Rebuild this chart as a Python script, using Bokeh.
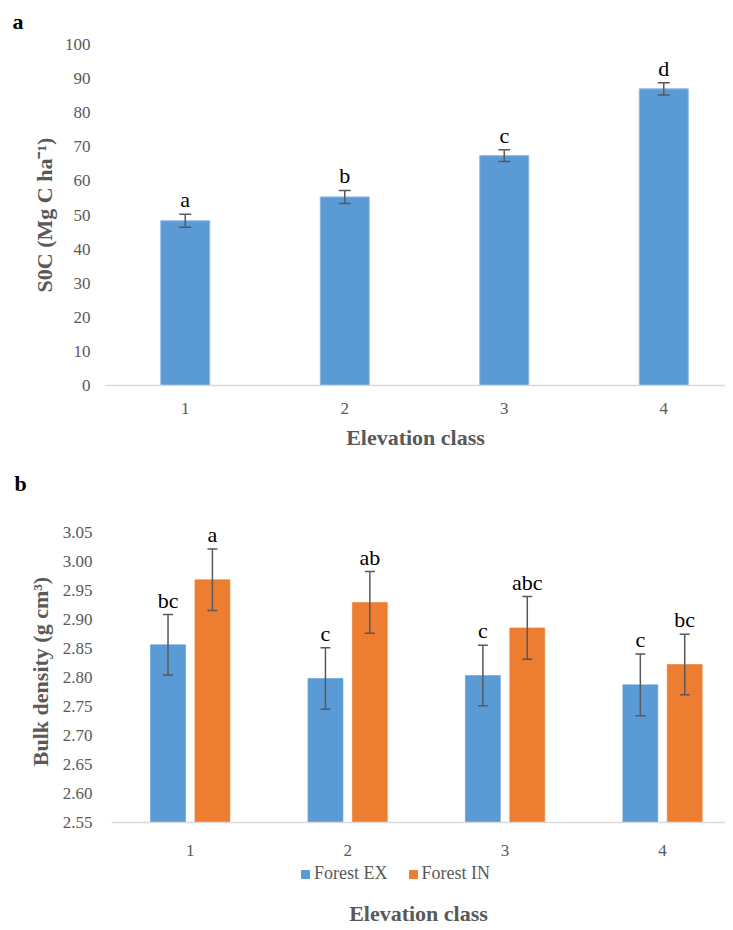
from bokeh.plotting import figure
from bokeh.models import (Range1d, FixedTicker, ColumnDataSource, Legend, LegendItem,
                          Title, PrintfTickFormatter)
from bokeh.transform import dodge
from bokeh.core.properties import value
from bokeh.embed import file_html
from bokeh.resources import INLINE

# ---------------- data ----------------
classes = [1, 2, 3, 4]

soc_mean = [48.3, 55.3, 67.4, 87.0]
soc_err = [1.9, 1.9, 1.7, 1.8]
soc_letters = ["a", "b", "c", "d"]
soc_ticks = [0, 10, 20, 30, 40, 50, 60, 70, 80, 90, 100]

series = ["Forest EX", "Forest IN"]
bd_ex_mean = [2.856, 2.798, 2.803, 2.787]
bd_ex_err = [0.052, 0.053, 0.052, 0.053]
bd_ex_letters = ["bc", "c", "c", "c"]
bd_in_mean = [2.968, 2.929, 2.885, 2.822]
bd_in_err = [0.053, 0.053, 0.054, 0.052]
bd_in_letters = ["a", "ab", "abc", "bc"]
bd_ticks = [2.55, 2.60, 2.65, 2.70, 2.75, 2.80, 2.85, 2.90, 2.95, 3.00, 3.05]

BLUE = "#5B9BD5"
ORANGE = "#ED7D31"
GRAY = "#595959"
FONT = "Liberation Serif"


def base_style(p):
    p.xgrid.visible = False
    p.ygrid.visible = False
    p.outline_line_color = None
    p.background_fill_color = "white"
    p.border_fill_color = "white"


def style_axis(ax, line=False):
    ax.axis_line_color = "#D9D9D9" if line else None
    ax.axis_line_width = 1.5
    ax.major_tick_line_color = None
    ax.minor_tick_line_color = None
    ax.major_tick_out = 0
    ax.major_tick_in = 0
    ax.major_label_text_font = FONT
    ax.major_label_text_font_size = "17px"
    ax.major_label_text_color = GRAY
    ax.axis_label_text_font = FONT
    ax.axis_label_text_font_size = "22px"
    ax.axis_label_text_font_style = "bold"
    ax.axis_label_text_color = GRAY


def panel_letter(text, offset, standoff):
    return Title(text=text, align="left", offset=offset, vertical_align="top",
                 standoff=standoff, text_font=FONT, text_font_size="22px",
                 text_font_style="bold", text_color="black")


def errorbars(p, src, xs, cap):
    p.segment(x0=xs, x1=xs, y0="lower", y1="upper", source=src,
              line_color=GRAY, line_width=1.5)
    p.scatter(x=xs, y="upper", marker="dash", size=cap, source=src,
              line_color=GRAY, line_width=1.5)
    p.scatter(x=xs, y="lower", marker="dash", size=cap, source=src,
              line_color=GRAY, line_width=1.5)
    p.text(x=xs, y="upper", text="letter", source=src, text_align="center",
           text_baseline="bottom", y_offset=-2, text_font=value(FONT),
           text_font_size=value("22px"), text_color="black")


W = 725

# ---------------- panel a ----------------
p1 = figure(width=W, height=516, x_range=Range1d(0.5, 4.387), y_range=Range1d(0, 100),
            output_backend="svg", toolbar_location=None,
            min_border_left=105, min_border_right=0, min_border_top=44, min_border_bottom=131)
base_style(p1)
p1.title = panel_letter("a", -93, 17)
src1 = ColumnDataSource(dict(
    x=classes, top=soc_mean, letter=soc_letters,
    upper=[m + e for m, e in zip(soc_mean, soc_err)],
    lower=[m - e for m, e in zip(soc_mean, soc_err)],
))
p1.vbar(x="x", top="top", bottom=0, width=0.307, source=src1,
        fill_color=BLUE, line_color="#8FB8E2", line_width=1)
errorbars(p1, src1, "x", 12)
style_axis(p1.xaxis[0], line=True)
style_axis(p1.yaxis[0])
p1.xaxis.ticker = FixedTicker(ticks=classes)
p1.yaxis.ticker = FixedTicker(ticks=soc_ticks)
p1.yaxis.major_label_standoff = 15
p1.yaxis.axis_label = "S0C (Mg C ha\u207b\u00b9)"
p1.yaxis.axis_label_standoff = 5
p1.xaxis.major_label_standoff = 17
p1.xaxis.axis_label = "Elevation class"
p1.xaxis.axis_label_standoff = 8
p1.add_layout(panel_letter("b", -91, 36), "below")

# ---------------- panel b ----------------
p2 = figure(width=W, height=348, x_range=Range1d(0.5, 4.40), y_range=Range1d(2.55, 3.07),
            output_backend="svg", toolbar_location=None,
            min_border_left=111, min_border_right=0, min_border_top=4, min_border_bottom=42)
base_style(p2)
src_ex = ColumnDataSource(dict(
    x=classes, top=bd_ex_mean, letter=bd_ex_letters,
    upper=[m + e for m, e in zip(bd_ex_mean, bd_ex_err)],
    lower=[m - e for m, e in zip(bd_ex_mean, bd_ex_err)],
))
src_in = ColumnDataSource(dict(
    x=classes, top=bd_in_mean, letter=bd_in_letters,
    upper=[m + e for m, e in zip(bd_in_mean, bd_in_err)],
    lower=[m - e for m, e in zip(bd_in_mean, bd_in_err)],
))
for src, off, col in ((src_ex, -0.141, BLUE), (src_in, 0.141, ORANGE)):
    p2.vbar(x=dodge("x", off, range=p2.x_range), top="top", bottom=2.55, width=0.222,
            source=src, fill_color=col, line_color=col, line_alpha=0.6, line_width=1)
    errorbars(p2, src, dodge("x", off, range=p2.x_range), 10)

style_axis(p2.xaxis[0], line=True)
style_axis(p2.yaxis[0])
p2.xaxis.ticker = FixedTicker(ticks=classes)
p2.xaxis.major_label_standoff = 22
p2.yaxis.ticker = FixedTicker(ticks=bd_ticks)
p2.yaxis.formatter = PrintfTickFormatter(format="%.2f")
p2.yaxis.major_label_standoff = 19
p2.yaxis.axis_label = "Bulk density (g cm\u00b3)"
p2.yaxis.axis_label_standoff = 7

# ---------------- legend + axis title of panel b ----------------
p3 = figure(width=W, height=64, x_range=Range1d(5, 6), y_range=Range1d(5, 6),
            output_backend="svg", toolbar_location=None, y_axis_location=None,
            min_border_left=111, min_border_right=0, min_border_top=0, min_border_bottom=38)
base_style(p3)
style_axis(p3.xaxis[0])
p3.xaxis.ticker = FixedTicker(ticks=[])
p3.xaxis.major_label_text_font_size = "0px"
p3.xaxis.major_label_standoff = 0
p3.xaxis.axis_label = "Elevation class"
p3.xaxis.axis_label_standoff = 13
# legend keys: hidden renderers of the two series (only their swatches are shown)
k_ex = p3.vbar(x="x", top="top", bottom=2.55, width=0.222, source=src_ex,
               fill_color=BLUE, line_color=BLUE, visible=False)
k_in = p3.vbar(x="x", top="top", bottom=2.55, width=0.222, source=src_in,
               fill_color=ORANGE, line_color=ORANGE, visible=False)
legend = Legend(items=[LegendItem(label=series[0], renderers=[k_ex]),
                       LegendItem(label=series[1], renderers=[k_in])],
                orientation="horizontal", location=(189, 3),
                label_text_font=FONT, label_text_font_size="18px", label_text_color=GRAY,
                glyph_width=10, glyph_height=10, label_standoff=4, spacing=20,
                label_height=18, border_line_color=None, background_fill_alpha=0,
                padding=1, margin=0)
p3.add_layout(legend)

open("out.html", "w").write(file_html([p1, p2, p3], INLINE))
